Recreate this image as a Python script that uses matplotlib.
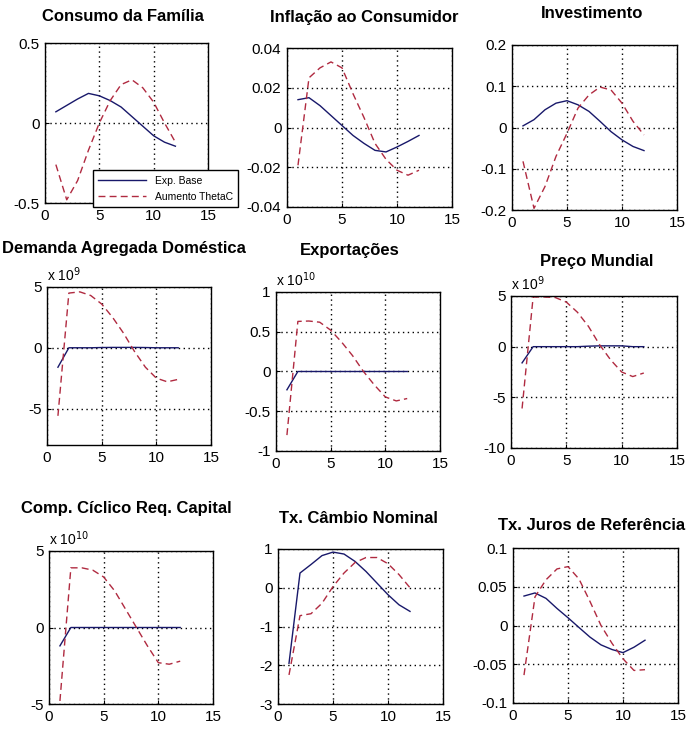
"""Respostas a impulso: Exp. Base vs Aumento ThetaC (grade 3x3 no estilo MATLAB)."""
import matplotlib
matplotlib.use("Agg")
import matplotlib.pyplot as plt
from matplotlib.ticker import FixedLocator, FuncFormatter
from matplotlib.lines import Line2D

plt.rcParams["font.family"] = ["Liberation Sans", "DejaVu Sans"]
plt.rcParams["axes.unicode_minus"] = False

periodos = list(range(1, 13))

titulos = ["Consumo da Família", "Inflação ao Consumidor", "Investimento",
           "Demanda Agregada Doméstica", "Exportações", "Preço Mundial",
           "Comp. Cíclico Req. Capital", "Tx. Câmbio Nominal", "Tx. Juros de Referência"]

# série base (azul) e cenário com aumento de ThetaC (vermelho tracejado)
consumo_base = [0.07, 0.11, 0.15, 0.185, 0.17, 0.14, 0.10, 0.04, -0.02, -0.08, -0.12, -0.145]
consumo_theta = [-0.26, -0.48, -0.36, -0.17, 0.0, 0.14, 0.24, 0.27, 0.22, 0.13, 0.0, -0.12]
inflacao_base = [0.014, 0.015, 0.011, 0.006, 0.001, -0.004, -0.008, -0.0115, -0.0123, -0.0098, -0.007, -0.004]
inflacao_theta = [-0.019, 0.025, 0.030, 0.033, 0.030, 0.017, 0.005, -0.008, -0.016, -0.0215, -0.024, -0.0215]
invest_base = [0.004, 0.019, 0.043, 0.059, 0.065, 0.055, 0.039, 0.015, -0.010, -0.030, -0.046, -0.056]
invest_theta = [-0.082, -0.196, -0.143, -0.07, -0.014, 0.047, 0.079, 0.098, 0.091, 0.059, 0.015, -0.018]
demanda_base = [-1.6e9, 0, 0, 0, 0.02e9, 0.03e9, 0.03e9, 0.03e9, 0.02e9, 0, 0, 0]
demanda_theta = [-5.6e9, 4.5e9, 4.6e9, 4.3e9, 3.6e9, 2.5e9, 1.2e9, -0.3e9, -1.6e9, -2.5e9, -2.8e9, -2.6e9]
export_base = [-0.23e10, 0, 0, 0, 0, 0, 0, 0, 0, 0, 0, 0]
export_theta = [-0.80e10, 0.63e10, 0.635e10, 0.62e10, 0.52e10, 0.37e10, 0.2e10, 0.0, -0.17e10, -0.32e10, -0.37e10, -0.34e10]
preco_base = [-1.6e9, 0, 0, 0, 0, 0, 0.05e9, 0.08e9, 0.08e9, 0.08e9, 0, 0]
preco_theta = [-6.1e9, 4.9e9, 4.9e9, 4.85e9, 4.4e9, 3.4e9, 2.0e9, 0.2e9, -1.3e9, -2.5e9, -2.95e9, -2.6e9]
capital_base = [-1.2e10, 0, 0, 0, 0, 0, 0, 0, 0, 0, 0, 0]
capital_theta = [-4.8e10, 3.9e10, 3.9e10, 3.75e10, 3.3e10, 2.4e10, 1.2e10, 0.0, -1.2e10, -2.3e10, -2.4e10, -2.2e10]
cambio_base = [-1.95, 0.38, 0.6, 0.83, 0.92, 0.87, 0.68, 0.42, 0.12, -0.18, -0.44, -0.61]
cambio_theta = [-2.25, -0.72, -0.67, -0.40, 0.03, 0.38, 0.65, 0.78, 0.78, 0.62, 0.34, 0.0]
juros_base = [0.038, 0.042, 0.035, 0.022, 0.010, -0.0026, -0.015, -0.025, -0.031, -0.035, -0.028, -0.019]
juros_theta = [-0.064, 0.037, 0.059, 0.073, 0.076, 0.060, 0.031, 0.0, -0.023, -0.043, -0.058, -0.057]

series_base = [consumo_base, inflacao_base, invest_base, demanda_base, export_base,
               preco_base, capital_base, cambio_base, juros_base]
series_theta = [consumo_theta, inflacao_theta, invest_theta, demanda_theta, export_theta,
                preco_theta, capital_theta, cambio_theta, juros_theta]

yticks = [[-0.5, 0, 0.5], [-0.04, -0.02, 0, 0.02, 0.04], [-0.2, -0.1, 0, 0.1, 0.2],
          [-5e9, 0, 5e9], [-1e10, -0.5e10, 0, 0.5e10, 1e10], [-10e9, -5e9, 0, 5e9],
          [-5e10, 0, 5e10], [-3, -2, -1, 0, 1], [-0.1, -0.05, 0, 0.05, 0.1]]
ylims = [(-0.5, 0.5), (-0.04, 0.04), (-0.2, 0.2), (-8e9, 5e9), (-1e10, 1e10),
         (-10e9, 5e9), (-5e10, 5e10), (-3, 1), (-0.1, 0.1)]
expoentes = [0, 0, 0, 9, 10, 9, 10, 0, 0]

# posicoes em pixels (esq, topo, dir, base) de cada painel na figura 700x756
W, H = 700, 756
caixas = [(45, 43, 208, 203), (287, 48, 452, 207), (512, 45, 677, 210),
          (47, 287, 211, 445), (276, 292, 440, 451), (511, 296, 677, 448),
          (49, 551, 213, 704), (278, 549, 443, 704), (513, 548, 678, 703)]
titulo_pos = [(123, 21), (364, 22), (592, 18), (124, 253), (350, 255), (597, 266),
              (126, 513), (358, 523), (592, 530)]

AZUL = "#18186a"
VERMELHO = "#b02a40"

fig = plt.figure(figsize=(W / 100, H / 100), dpi=100)

for i in range(9):
    l, t, r, b = caixas[i]
    ax = fig.add_axes([l / W, 1 - b / H, (r - l) / W, (b - t) / H])
    ax.plot(periodos, series_base[i], color=AZUL, lw=1.0)
    ax.plot(periodos, series_theta[i], color=VERMELHO, lw=1.0, dashes=(5, 3))
    ax.set_xlim(0, 15)
    ax.set_ylim(*ylims[i])
    ax.xaxis.set_major_locator(FixedLocator([0, 5, 10, 15]))
    ax.yaxis.set_major_locator(FixedLocator(yticks[i]))
    esc = 10.0 ** expoentes[i]
    ax.yaxis.set_major_formatter(FuncFormatter(lambda v, p, e=esc: "%g" % round(v / e, 6)))
    ax.grid(True, color="black", linestyle=(0, (1, 2.5)), lw=1.0)
    ax.tick_params(direction="in", length=3, labelsize=11, colors="black", pad=4)
    for s in ax.spines.values():
        s.set_linewidth(1.0)
    if expoentes[i]:
        ax.text(0.0, 1.02, r"x 10$^{%d}$" % expoentes[i], transform=ax.transAxes,
                fontsize=10, ha="left", va="bottom")
    tx, ty = titulo_pos[i]
    fig.text(tx / W, 1 - ty / H, titulos[i], fontsize=12, fontweight="bold",
             ha="center", va="baseline")
    if i == 0:
        handles = [Line2D([], [], color=AZUL, lw=1.0),
                   Line2D([], [], color=VERMELHO, lw=1.0, dashes=(5, 3))]
        leg = ax.legend(handles, ["Exp. Base", "Aumento ThetaC"], loc="lower right",
                        bbox_to_anchor=(238 / W, 1 - 207 / H), bbox_transform=fig.transFigure,
                        fontsize=7.5, handlelength=4.6, fancybox=False, framealpha=1,
                        edgecolor="black", borderaxespad=0, borderpad=0.5,
                        labelspacing=0.6)
        leg.get_frame().set_linewidth(1.0)

fig.savefig("out.png", dpi=100)
